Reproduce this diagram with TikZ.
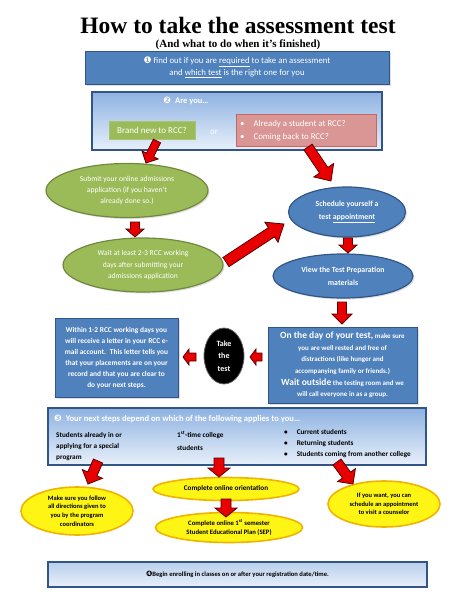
\documentclass[tikz,border=0pt]{standalone}
\usepackage{fontspec}
\setmainfont{Carlito}
\newfontfamily\titlefont{Liberation Serif}
\newfontfamily\symfont{DejaVu Sans}
\usetikzlibrary{shapes.geometric,shadows}
\definecolor{bluemain}{RGB}{79,129,189}
\definecolor{bluedark}{RGB}{50,85,135}
\definecolor{bluetop}{RGB}{142,178,226}
\definecolor{bluebot}{RGB}{232,240,250}
\definecolor{bluetopl}{RGB}{185,207,236}
\definecolor{greenmain}{RGB}{155,187,89}
\definecolor{greendark}{RGB}{113,137,63}
\definecolor{pinkmain}{RGB}{217,150,148}
\definecolor{pinkdark}{RGB}{192,80,77}
\definecolor{yellowmain}{RGB}{255,245,20}
\definecolor{yellowdark}{RGB}{240,180,0}
\definecolor{arrowred}{RGB}{232,0,0}
\definecolor{arrowdark}{RGB}{90,0,0}
\newcommand\barrow[5]{%
  \pgfpointdiff{\pgfpointanchor{#1}{center}}{\pgfpointanchor{#2}{center}}%
  \pgfgetlastxy\bdx\bdy
  \pgfmathsetmacro\barang{atan2(\bdy,\bdx)}%
  \pgfmathsetmacro\barlen{veclen(\bdx,\bdy)}%
  \pgfmathsetmacro\barneck{\barlen-#5}%
  \filldraw[blockarrow,shift={(#1)},rotate=\barang] (0pt,-#3pt) -- (\barneck pt,-#3pt) -- (\barneck pt,-#4pt) -- (\barlen pt,0pt) -- (\barneck pt,#4pt) -- (\barneck pt,#3pt) -- (0pt,#3pt) -- cycle;}
\begin{document}
\begin{tikzpicture}[x=1pt,y=-1pt,
  blockarrow/.style={fill=arrowred,draw=arrowdark,line width=0.8pt,line join=miter},
  bluebox/.style={rectangle,draw=bluedark,fill=bluemain,line width=1pt,text=white,align=center,inner sep=0pt,drop shadow={opacity=0.25,shadow xshift=1.5pt,shadow yshift=-1.5pt}},
  gradbox/.style={rectangle,draw=bluedark,line width=1.2pt,top color=bluetop,bottom color=bluebot,inner sep=0pt},
  blueell/.style={ellipse,draw=bluedark,fill=bluemain,line width=1.2pt,text=white,align=center,inner sep=0pt,drop shadow={opacity=0.25,shadow xshift=1.5pt,shadow yshift=-1.5pt}},
  greenell/.style={ellipse,draw=greendark,fill=greenmain,line width=1.2pt,text=white,align=center,inner sep=0pt,drop shadow={opacity=0.25,shadow xshift=1.5pt,shadow yshift=-1.5pt}},
  yellowell/.style={ellipse,draw=yellowdark,fill=yellowmain,line width=1.6pt,text=black,align=center,inner sep=0pt,font=\bfseries\fontsize{6.5}{8.6}\selectfont},
  plain/.style={inner sep=0pt,align=left}]
\useasboundingbox[fill=white] (0,0) rectangle (474,613);

% title
\node[anchor=base,font=\titlefont\bfseries\fontsize{23.5}{27}\selectfont] (title) at (238,33) {How to take the assessment test};
\node[anchor=base,font=\titlefont\bfseries\fontsize{11}{12}\selectfont] (subtitle) at (238,47.5) {(And what to do when it’s finished)};

% step 1
\node[bluebox,minimum width=304pt,minimum height=33pt,font=\fontsize{8.8}{12.2}\selectfont] (step1) at (237,67.5)
  {{\symfont\fontsize{9}{10}\selectfont ❶} find out if you are \underline{required} to take an assessment\\and \underline{which test} is the right one for you};

% step 2
\node[gradbox,minimum width=290pt,minimum height=58pt] (step2) at (237,121) {};
\node[plain,text=white,font=\bfseries\fontsize{8.5}{10}\selectfont] (areyou) at (186,100.5) {{\symfont\fontsize{9}{10}\selectfont ❷}\hspace{4pt}Are you…};
\node[rectangle,draw=greenmain!85!white,fill=greenmain,line width=0.8pt,minimum width=86pt,minimum height=18pt,inner sep=0pt,text=white,font=\fontsize{9}{11}\selectfont] (brandnew) at (152,130) {Brand new to RCC?};
\node[plain,text=white,font=\fontsize{9}{11}\selectfont] (or) at (214,132) {or};
\node[rectangle,draw=pinkdark!70!pinkmain,fill=pinkmain,line width=0.8pt,minimum width=140pt,minimum height=32pt,inner sep=0pt] (returning) at (306,130) {};
\node[plain,text=white,font=\fontsize{8.8}{13.5}\selectfont,anchor=west] (retext) at (240,130.5)
  {\textbullet\hspace{9pt}Already a student at RCC?\\\textbullet\hspace{9pt}Coming back to RCC?};

% left branch
\node[greenell,minimum width=162pt,minimum height=54pt,font=\fontsize{7.6}{11.2}\selectfont] (submit) at (127,190.5)
  {Submit your online admissions\\application (if you haven’t\\already done so.)};
\node[greenell,minimum width=160pt,minimum height=54pt,font=\fontsize{7.6}{11.2}\selectfont] (wait) at (143,265)
  {Wait at least 2-3 RCC working\\days after submitting your\\admissions application};

% right branch
\node[blueell,minimum width=117pt,minimum height=50pt,font=\bfseries\fontsize{7.8}{13}\selectfont] (schedule) at (347,212)
  {Schedule yourself a\\test \underline{appointment}};
\node[blueell,minimum width=140pt,minimum height=44pt,font=\bfseries\fontsize{7.8}{13}\selectfont] (prep) at (343,276)
  {View the Test Preparation\\materials};
\node[bluebox,minimum width=149pt,minimum height=76pt,font=\bfseries\fontsize{7}{11.6}\selectfont] (testday) at (342.5,365)
  {{\fontsize{9.5}{11}\selectfont On the day of your test,} make sure\\you are well rested and free of\\distractions (like hunger and\\accompanying family or friends.)\\{\fontsize{9.5}{11}\selectfont Wait outside} the testing room and we\\will call everyone in as a group.};
\node[ellipse,fill=black,draw=black!60,line width=0.8pt,minimum width=40pt,minimum height=56pt,inner sep=0pt,text=white,align=center,font=\bfseries\fontsize{8}{12.3}\selectfont] (take) at (224,356)
  {Take\\the\\test};
\node[bluebox,minimum width=123pt,minimum height=79pt,font=\bfseries\fontsize{7.4}{11}\selectfont] (letter) at (116.5,357.5)
  {Within 1-2 RCC working days you\\will receive a letter in your RCC e-\\mail account.~ This letter tells you\\that your placements are on your\\record and that you are clear to\\do your next steps.};

% step 3
\node[gradbox,minimum width=378pt,minimum height=57pt] (step3) at (237,436.5) {};
\node[plain,anchor=west,text=white,font=\bfseries\fontsize{8.6}{10}\selectfont] (nexthead) at (54,419)
  {{\symfont\fontsize{9}{10}\selectfont ❸}\hspace{4pt}Your next steps depend on which of the following applies to you…};
\node[plain,anchor=west,font=\bfseries\fontsize{7.2}{11.2}\selectfont] (special) at (56,446.5)
  {Students already in or\\applying for a special\\program};
\node[plain,anchor=west,font=\bfseries\fontsize{7.2}{12.5}\selectfont] (firsttime) at (177,441)
  {1\textsuperscript{st}-time college\\students};
\node[plain,anchor=west,font=\bfseries\fontsize{7.2}{11}\selectfont] (current) at (284,444)
  {\textbullet\hspace{9pt}Current students\\\textbullet\hspace{9pt}Returning students\\\textbullet\hspace{9pt}Students coming from another college};

% yellow outcomes
\node[yellowell,minimum width=112pt,minimum height=48pt] (follow) at (77,511)
  {Make sure you follow\\all directions given to\\you by the program\\coordinators};
\node[yellowell,minimum width=146pt,minimum height=23pt,font=\bfseries\fontsize{7.2}{9}\selectfont] (orient) at (226,489)
  {Complete online orientation};
\node[yellowell,minimum width=147pt,minimum height=30pt,font=\bfseries\fontsize{6.7}{9}\selectfont] (sep) at (229,527.5)
  {Complete online 1\textsuperscript{st} semester\\Student Educational Plan (SEP)};
\node[yellowell,minimum width=112pt,minimum height=46pt] (counsel) at (384,504)
  {If you want, you can\\schedule an appointment\\to visit a counselor};

% step 4
\node[rectangle,draw=bluedark,line width=1.2pt,top color=bluetopl,bottom color=bluebot,minimum width=379pt,minimum height=25pt,inner sep=0pt,font=\bfseries\fontsize{6.6}{8}\selectfont] (step4) at (237.5,574.5)
  {{\symfont\fontsize{7.5}{8}\selectfont ❹}Begin enrolling in classes on or after your registration date/time.};

% arrows
\coordinate (aAs) at (157,141); \coordinate (aAe) at (146,163);
\coordinate (aBs) at (308,147); \coordinate (aBe) at (331,181);
\coordinate (aCs) at (135,222); \coordinate (aCe) at (135,237);
\coordinate (aDs) at (226,262); \coordinate (aDe) at (284,224);
\coordinate (aEs) at (348,238); \coordinate (aEe) at (348,253);
\coordinate (aFs) at (342,302); \coordinate (aFe) at (342,324);
\coordinate (aGs) at (262,357); \coordinate (aGe) at (250,357);
\coordinate (aHs) at (196,357); \coordinate (aHe) at (183,357);
\coordinate (aIs) at (98,461);  \coordinate (aIe) at (88,484);
\coordinate (aJs) at (219,458); \coordinate (aJe) at (219,477);
\coordinate (aKs) at (337,462); \coordinate (aKe) at (353,484);
\coordinate (aLs) at (226,499); \coordinate (aLe) at (226,517);
\barrow{aAs}{aAe}{4}{9}{9}
\barrow{aBs}{aBe}{5}{12}{13}
\barrow{aCs}{aCe}{4.5}{9}{8}
\barrow{aDs}{aDe}{5.5}{12}{15}
\barrow{aEs}{aEe}{4.5}{9}{8}
\barrow{aFs}{aFe}{4.5}{10}{10}
\barrow{aGs}{aGe}{4}{8}{6}
\barrow{aHs}{aHe}{4}{8}{6}
\barrow{aIs}{aIe}{5}{11}{11}
\barrow{aJs}{aJe}{5}{11}{9}
\barrow{aKs}{aKe}{5}{11}{11}
\barrow{aLs}{aLe}{5}{11}{9}
\end{tikzpicture}
\end{document}
